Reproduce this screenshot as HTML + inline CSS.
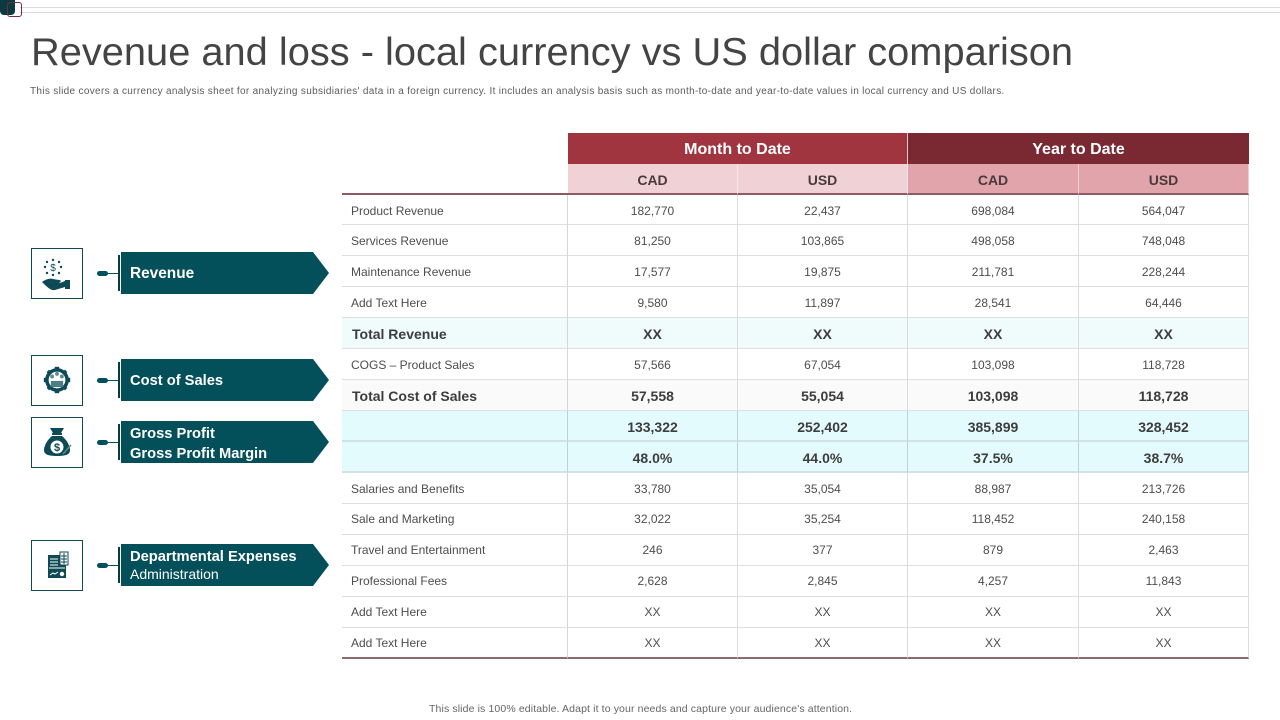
<!DOCTYPE html>
<html lang="en">
<head>
<meta charset="utf-8">
<title>Revenue and loss - local currency vs US dollar comparison</title>
<style>
html,body{margin:0;padding:0;background:#fff}
body{width:1280px;height:720px;position:relative;overflow:hidden;font-family:"Liberation Sans",Arial,sans-serif}
.abs{position:absolute}
.title-svg{position:absolute;left:0;top:20px;width:1280px;height:60px}
.subtitle{position:absolute;left:30px;top:85px;font-size:10px;line-height:14px;color:#5c5c5c;white-space:nowrap;letter-spacing:.32px}
.footer{position:absolute;left:429px;top:702px;font-size:10.5px;line-height:14px;color:#666;white-space:nowrap;letter-spacing:.12px}
table{position:absolute;left:342px;top:133px;width:907px;border-collapse:separate;border-spacing:0;table-layout:fixed;font-size:12px;color:#4d4d4d}
td,th{box-sizing:border-box;padding:2px 0 0;text-align:center;vertical-align:middle;border-bottom:1px solid #dedede;border-right:1px solid #dcdcdc;overflow:hidden;white-space:nowrap}
td:first-child{text-align:left;padding-left:9px;border-right:1px solid #d6d6d6}
tr.r31 td{height:31px}
tr.r30 td{height:30px}
tr.np td{padding-top:0}
tr.sum td{font-weight:bold;font-size:14px;color:#3d3d3d}
tr.sum td:first-child{padding-left:10px}
tr.tr td{background:#f0fbfc}
tr.tc td{background:#fafafa}
tr.gp td{background:#e4fbfe;border-bottom:2px solid #cfe3e7;border-right-color:#bdd0d6}
tr.last td{border-bottom:2px solid #8d6a70}
th.h1{height:31px;color:#fff;font-size:16px;border:none}
th.mtd{background:#a03540;border-right:1px solid #e9c9cc}
th.ytd{background:#7a2832}
th.h2{height:31px;font-size:14px;color:#4a3a3c;border-bottom:2px solid #8d5a62}
th.lm{background:#f0d1d6;border-right:1px solid #f7e4e6}
th.ly{background:#e1a4aa;border-right:1px solid #efcdd0}
th.blank{background:#fff;border-right:none;border-bottom:none}
th.blank2{background:#fff;border-right:none;border-bottom:2px solid #8d5a62}
.box{position:absolute;left:31px;width:52px;height:51px;box-sizing:border-box;border:1px solid #0d4a55;background:#fff}
.box svg{display:block;width:50px;height:49px}
.pill{position:absolute;left:97px;width:11px;height:5px;border-radius:3px;background:#03505b}
.conn{position:absolute;left:107px;width:11px;height:1px;background:#03505b}
.bar{position:absolute;left:118px;width:2px;height:36px;background:#0a3b44}
.chev{position:absolute;left:121px;width:208px;height:42px;background:#03505b;clip-path:polygon(0 0,192px 0,100% 50%,192px 100%,0 100%);color:#fff;font-size:14.7px;font-weight:bold;box-sizing:border-box;padding-left:9px}
</style>
</head>
<body>

<div class="abs" style="left:20px;top:7px;width:1260px;height:1px;background:#dcdcdc"></div>
<div class="abs" style="left:20px;top:12px;width:1260px;height:1px;background:#d9d9d9"></div>
<div class="abs" style="left:0;top:0;width:15px;height:15px;background:#0d3a42;border-radius:0 0 4px 4px"></div>
<div class="abs" style="left:7px;top:2px;width:15px;height:15px;box-sizing:border-box;border:1px solid #6e3040;border-radius:3px"></div>

<svg class="title-svg" viewBox="0 0 1280 60"><text x="31" y="45" font-family="Liberation Sans, sans-serif" font-size="39" fill="#444" textLength="1042" lengthAdjust="spacingAndGlyphs">Revenue and loss - local currency vs US dollar comparison</text></svg>

<div class="subtitle">This slide covers a currency analysis sheet for analyzing subsidiaries' data in a foreign currency. It includes an analysis basis such as month-to-date and year-to-date values in local currency and US dollars.</div>

<!-- Revenue -->
<div class="box" style="top:248px">
<svg viewBox="0 0 50 49">
<g fill="#0d4a55"><circle cx="21" cy="11" r="1.2"/><circle cx="15" cy="13" r="1.2"/><circle cx="27" cy="13" r="1.2"/><circle cx="13" cy="18" r="1.2"/><circle cx="29" cy="18" r="1.2"/><circle cx="15" cy="24" r="1.2"/><circle cx="27" cy="24" r="1.2"/><circle cx="21" cy="26" r="1.2"/>
<path d="M10 33c4-3 8-4 11-3l6 1c3 0 2 3-1 3h-4l6 0 5-2v-1h5v9h-5v-2l-10 3c-4 1-8-3-13-8z"/></g>
<text x="21" y="22" font-size="10" text-anchor="middle" fill="#0d4a55" font-family="Liberation Sans, sans-serif">$</text>
</svg></div>
<div class="pill" style="top:271px"></div>
<div class="conn" style="top:273px"></div>
<div class="bar" style="top:255px"></div>
<div class="chev" style="top:252px;line-height:44px;font-size:15.4px">Revenue</div>

<!-- Cost of Sales -->
<div class="box" style="top:355px">
<svg viewBox="0 0 50 49">
<g transform="translate(25 24) scale(.88) translate(-25 -24)">
<circle cx="25" cy="24" r="11.5" fill="#fff" stroke="#0d4a55" stroke-width="4"/>
<g fill="#0d4a55"><rect x="22.5" y="9" width="5" height="4"/><rect x="22.5" y="35" width="5" height="4"/><rect x="10" y="21.5" width="4" height="5"/><rect x="36" y="21.5" width="4" height="5"/><rect x="14" y="13" width="4" height="4" transform="rotate(45 16 15)"/><rect x="32" y="13" width="4" height="4" transform="rotate(45 34 15)"/><rect x="14" y="31" width="4" height="4" transform="rotate(45 16 33)"/><rect x="32" y="31" width="4" height="4" transform="rotate(45 34 33)"/></g>
<g fill="#5f8a90"><circle cx="19.5" cy="20" r="2.2"/><circle cx="25" cy="17" r="2.2"/><circle cx="30.5" cy="20" r="2.2"/></g>
<rect x="18" y="25" width="14" height="7" fill="#4f7d84"/>
</g>
</svg></div>
<div class="pill" style="top:378px"></div>
<div class="conn" style="top:380px"></div>
<div class="bar" style="top:362px"></div>
<div class="chev" style="top:359px;line-height:44px">Cost of Sales</div>

<!-- Gross Profit -->
<div class="box" style="top:417px">
<svg viewBox="0 0 50 49">
<path d="M18 10h14l-3 5h-8z" fill="#0d4a55"/><rect x="20" y="15" width="10" height="2" fill="#0d4a55"/>
<path d="M20 18h10c5 4 8 10 8 14 0 4-3 6-13 6s-13-2-13-6c0-4 3-10 8-14z" fill="#0d4a55"/>
<circle cx="25" cy="29" r="6.5" fill="#fff"/><text x="25" y="33" font-size="11" font-weight="bold" text-anchor="middle" fill="#0d4a55" font-family="Liberation Sans, sans-serif">$</text>
<path d="M31 36l8-9" stroke="#5f8a90" stroke-width="1.5" fill="none"/>
</svg></div>
<div class="pill" style="top:440px"></div>
<div class="conn" style="top:442px"></div>
<div class="bar" style="top:424px"></div>
<div class="chev" style="top:421px;padding-top:3px;line-height:20px">Gross Profit<br>Gross Profit Margin</div>

<!-- Departmental Expenses -->
<div class="box" style="top:540px">
<svg viewBox="0 0 50 49">
<rect x="16" y="14" width="18" height="23" fill="#0d4a55"/>
<rect x="28" y="11" width="8" height="13" fill="#fff" stroke="#0d4a55"/>
<g stroke="#0d4a55" stroke-width="1"><path d="M29 15h6M29 18h6M29 21h6M32 12v11"/></g>
<g stroke="#fff" stroke-width="1"><path d="M18 18h8M18 21h8M18 24h8M17 27h16"/></g>
<path d="M18 34l3-2 2 1 3-2" stroke="#fff" fill="none"/><circle cx="30" cy="33" r="2.2" fill="#fff"/>
</svg></div>
<div class="pill" style="top:563px"></div>
<div class="conn" style="top:565px"></div>
<div class="bar" style="top:547px"></div>
<div class="chev" style="top:544px;padding-top:4px;line-height:18px">Departmental Expenses<br><span style="font-weight:normal;font-size:14px;line-height:16px;display:block">Administration</span></div>

<table>
<colgroup><col style="width:226px"><col style="width:170px"><col style="width:170px"><col style="width:171px"><col style="width:170px"></colgroup>
<thead>
<tr><th class="h1 blank"></th><th class="h1 mtd" colspan="2">Month to Date</th><th class="h1 ytd" colspan="2">Year to Date</th></tr>
<tr><th class="h2 blank2"></th><th class="h2 lm">CAD</th><th class="h2 lm">USD</th><th class="h2 ly">CAD</th><th class="h2 ly">USD</th></tr>
</thead>
<tbody>
<tr class="r30"><td>Product Revenue</td><td>182,770</td><td>22,437</td><td>698,084</td><td>564,047</td></tr>
<tr class="r31"><td>Services Revenue</td><td>81,250</td><td>103,865</td><td>498,058</td><td>748,048</td></tr>
<tr class="r31"><td>Maintenance Revenue</td><td>17,577</td><td>19,875</td><td>211,781</td><td>228,244</td></tr>
<tr class="r31"><td>Add Text Here</td><td>9,580</td><td>11,897</td><td>28,541</td><td>64,446</td></tr>
<tr class="r31 sum tr"><td>Total Revenue</td><td>XX</td><td>XX</td><td>XX</td><td>XX</td></tr>
<tr class="r31"><td>COGS – Product Sales</td><td>57,566</td><td>67,054</td><td>103,098</td><td>118,728</td></tr>
<tr class="r31 sum tc"><td>Total Cost of Sales</td><td>57,558</td><td>55,054</td><td>103,098</td><td>118,728</td></tr>
<tr class="r31 sum gp"><td></td><td>133,322</td><td>252,402</td><td>385,899</td><td>328,452</td></tr>
<tr class="r31 sum gp"><td></td><td>48.0%</td><td>44.0%</td><td>37.5%</td><td>38.7%</td></tr>
<tr class="r31"><td>Salaries and Benefits</td><td>33,780</td><td>35,054</td><td>88,987</td><td>213,726</td></tr>
<tr class="r31 np"><td>Sale and Marketing</td><td>32,022</td><td>35,254</td><td>118,452</td><td>240,158</td></tr>
<tr class="r31 np"><td>Travel and Entertainment</td><td>246</td><td>377</td><td>879</td><td>2,463</td></tr>
<tr class="r31 np"><td>Professional Fees</td><td>2,628</td><td>2,845</td><td>4,257</td><td>11,843</td></tr>
<tr class="r31 np"><td>Add Text Here</td><td>XX</td><td>XX</td><td>XX</td><td>XX</td></tr>
<tr class="r31 np last"><td>Add Text Here</td><td>XX</td><td>XX</td><td>XX</td><td>XX</td></tr>
</tbody>
</table>

<div class="footer">This slide is 100% editable.  Adapt it to your needs and capture your audience's attention.</div>
</body>
</html>
